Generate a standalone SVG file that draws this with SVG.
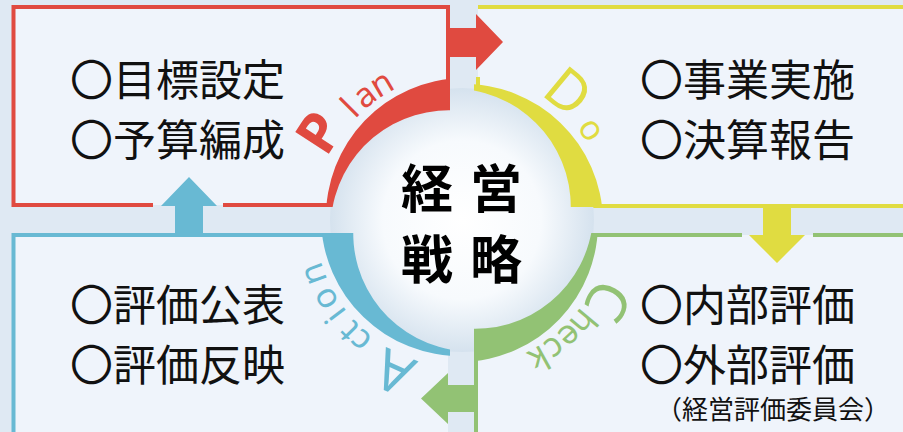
<svg xmlns="http://www.w3.org/2000/svg" width="903" height="432" viewBox="0 0 903 432">
<style>
.box{fill:#eff4fb}
.bd{fill:none;stroke-width:4}
.red{stroke:#e04a40}.yel{stroke:#e0dc41}.grn{stroke:#92c274}.blu{stroke:#68b9d3}
.t{font-family:"Noto Sans CJK JP","Noto Sans",sans-serif;font-size:43px;fill:#111}
.s{font-family:"Noto Sans CJK JP","Noto Sans",sans-serif;font-size:26px;fill:#111}
.c{font-family:"Noto Sans CJK JP","Noto Sans",sans-serif;font-size:52px;font-weight:700;fill:#000;text-anchor:middle}
.L{font-family:"Noto Sans",sans-serif;font-size:56px;text-anchor:middle}
.l{font-family:"Noto Sans",sans-serif;font-size:34px;text-anchor:middle}
</style>
<defs>
<radialGradient id="g" cx="462" cy="220" r="132" gradientUnits="userSpaceOnUse">
<stop offset="0" stop-color="#ffffff"/>
<stop offset="0.6" stop-color="#f7fafd"/>
<stop offset="1" stop-color="#d5e2ee"/>
</radialGradient>
<clipPath id="cP"><rect x="0" y="0" width="450" height="207"/></clipPath>
<clipPath id="cD"><rect x="474" y="0" width="429" height="207"/></clipPath>
<clipPath id="cC"><rect x="474" y="233" width="429" height="199"/></clipPath>
<clipPath id="cA"><rect x="0" y="233" width="450" height="199"/></clipPath>
</defs>
<rect width="903" height="432" fill="#dfe9f3"/>

<g id="plan-box">
<rect class="box" x="13.5" y="7" width="434.5" height="198"/>
<path class="bd red" d="M153,205 H13.5 V7 H448 V140 M223,205 H400"/>
<text class="t" x="70" y="96">〇目標設定</text>
<text class="t" x="70" y="156">〇予算編成</text>
</g>
<g id="do-box">
<rect class="box" x="478" y="7" width="430" height="199"/>
<path class="bd yel" d="M478,7 H910 M478,77 V140 M520,206 H910"/>
<text class="t" x="640" y="96">〇事業実施</text>
<text class="t" x="640" y="156">〇決算報告</text>
</g>
<g id="check-box">
<rect class="box" x="476" y="235" width="432" height="200"/>
<path class="bd grn" d="M520,235 H742 M813,235 H910 M476,300 V435"/>
<text class="t" x="640" y="321">〇内部評価</text>
<text class="t" x="640" y="381">〇外部評価</text>
<text class="s" x="656" y="419">（経営評価委員会）</text>
</g>
<g id="action-box">
<rect class="box" x="13.5" y="235" width="434.5" height="200"/>
<path class="bd blu" d="M13.5,435 V235 H400"/>
<text class="t" x="70" y="321">〇評価公表</text>
<text class="t" x="70" y="381">〇評価反映</text>
</g>

<g id="connectors">
<path fill="#e04a40" d="M448,28 H476 V14 L503,42 L476,70 V57 H448 Z"/>
<path fill="#e0dc41" d="M763,204 H791 V235 H805 L777,263 L749,235 H763 Z"/>
<path fill="#92c274" d="M478,385 V412 H448 V424 L421,398.5 L448,373 V385 Z"/>
<path fill="#68b9d3" d="M203,237 V206 H217 L189,177 L161,206 H175 V237 Z"/>
</g>

<g id="center">
<circle cx="462" cy="220" r="132" fill="url(#g)"/>
<path clip-path="url(#cP)" fill="#e04a40" d="M326,220 A139,139 0 0 1 462,78 L462,111 A118,118 0 0 0 331,220 Z"/>
<path clip-path="url(#cD)" fill="#e0dc41" d="M462,84 A139,139 0 0 1 603,220 L570,220 A118,118 0 0 0 462,89 Z"/>
<path clip-path="url(#cC)" fill="#92c274" d="M598,220 A139,139 0 0 1 462,362 L462,328 A118,118 0 0 0 593,220 Z"/>
<path clip-path="url(#cA)" fill="#68b9d3" d="M462,356 A139,139 0 0 1 321,220 L354,220 A118,118 0 0 0 462,351 Z"/>
<text class="c" x="427" y="208">経</text>
<text class="c" x="496" y="208">営</text>
<text class="c" x="427" y="279">戦</text>
<text class="c" x="496" y="279">略</text>
</g>

<g id="plan-label" fill="#e04a40">
<text class="L" font-weight="700" transform="translate(335.8,143.2) rotate(-57)">P</text>
<text class="l" transform="translate(358.1,116.1) rotate(-45)">l</text>
<text class="l" transform="translate(371.5,104.2) rotate(-38)">a</text>
<text class="l" transform="translate(387.4,93.3) rotate(-30.5)">n</text>
</g>
<g id="do-label" fill="#e0dc41">
<text class="L" transform="translate(555.7,106.7) rotate(39.6)">D</text>
<text class="l" transform="translate(582.4,135.7) rotate(55)">o</text>
</g>
<g id="check-label" fill="#92c274">
<text class="L" transform="translate(590.6,291.3) rotate(119)">C</text>
<text class="l" transform="translate(574.6,314.5) rotate(130)">h</text>
<text class="l" transform="translate(562.3,327.5) rotate(137)">e</text>
<text class="l" transform="translate(548.4,338.9) rotate(144)">c</text>
<text class="l" transform="translate(533.3,348.6) rotate(151)">k</text>
</g>
<g id="action-label" fill="#68b9d3">
<text class="L" transform="translate(402.2,354.3) rotate(204)">A</text>
<text class="l" transform="translate(367.5,332.6) rotate(220)">c</text>
<text class="l" transform="translate(357.1,323) rotate(225.5)">t</text>
<text class="l" transform="translate(344.6,308.5) rotate(233)">i</text>
<text class="l" transform="translate(334.7,293.5) rotate(240)">o</text>
<text class="l" transform="translate(323.9,270.3) rotate(250)">n</text>
</g>
</svg>
